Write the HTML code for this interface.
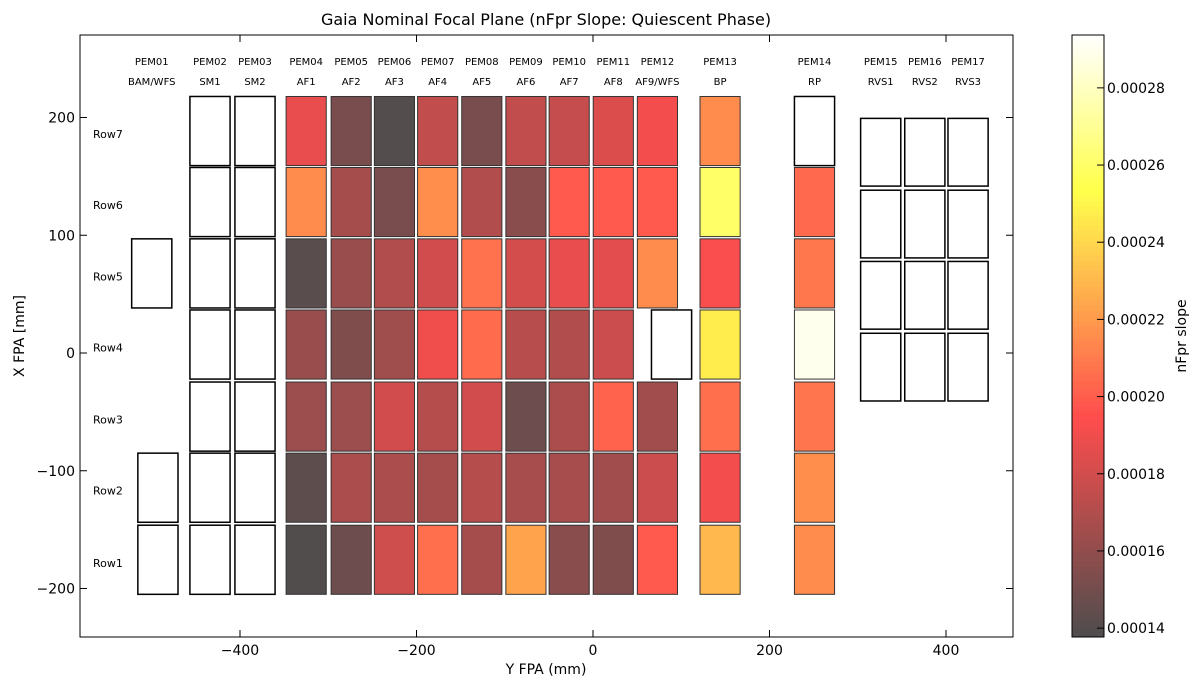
<!DOCTYPE html>
<html><head><meta charset="utf-8">
<style>
html,body{margin:0;padding:0;background:#fff;}
svg text{font-family:"DejaVu Sans","Liberation Sans",sans-serif;}
</style></head>
<body>
<svg id="chart" width="1200" height="690" viewBox="0 0 1200 690" xmlns="http://www.w3.org/2000/svg">
<text x="546" y="25" font-size="16" text-anchor="middle">Gaia Nominal Focal Plane (nFpr Slope: Quiescent Phase)</text>
<g id="cells"></g>
<g id="labels"></g>
<rect x="80" y="35" width="933" height="602" fill="none" stroke="#000" stroke-width="1"/>
<g id="axes"></g>
<text x="546" y="674" font-size="14" text-anchor="middle">Y FPA (mm)</text>
<text transform="translate(24,336) rotate(-90)" font-size="14" text-anchor="middle">X FPA [mm]</text>
<g id="cbar"></g>
<text transform="translate(1186,336) rotate(-90)" font-size="14" text-anchor="middle">nFpr slope</text>
</svg>
<script>
// ---- data ----
const rowNames = ["Row7","Row6","Row5","Row4","Row3","Row2","Row1"];
const rowCenters = [188.5, 128.2, 67.6, 7.2, -54.0, -114.4, -175.6];
const pemLabels = ["PEM01","PEM02","PEM03","PEM04","PEM05","PEM06","PEM07","PEM08","PEM09","PEM10","PEM11","PEM12","PEM13","PEM14","PEM15","PEM16","PEM17"];
const ccdLabels = ["BAM/WFS","SM1","SM2","AF1","AF2","AF3","AF4","AF5","AF6","AF7","AF8","AF9/WFS","BP","RP","RVS1","RVS2","RVS3"];
const colCenters = [-500,-434,-383,-325,-274,-225,-176,-126,-76,-27,23,73,144,251,326,376,425];
// values in units of 1e-5, rows 7..1 per AF/BP/RP column
const valAF1 = [18.8,21.5,14.2,16.2,16.3,14.3,13.9];
const valAF2 = [15.2,16.6,16.2,15.4,16.3,16.8,14.8];
const valAF3 = [14.0,15.2,17.0,16.4,18.0,16.8,17.9];
const valAF4 = [17.5,21.6,18.0,19.0,17.1,16.6,20.6];
const valAF5 = [15.2,17.0,20.7,20.5,18.0,17.1,16.6];
const valAF6 = [17.5,15.7,18.1,17.2,14.8,16.7,22.3];
const valAF7 = [17.6,19.9,18.8,17.0,16.8,16.7,15.7];
const valAF8 = [18.3,19.9,18.6,17.8,20.2,16.5,15.4];
const valAF9 = [19.1,19.9,21.5,null,16.5,17.8,19.9];
const valBP  = [21.5,26.0,19.3,24.7,20.6,19.1,23.0];
const valRP  = [null,20.4,20.9,29.0,20.8,21.6,21.5];
const rvsCenters = [170.5, 109.5, 49, -12];
const cbTicks = [14,16,18,20,22,24,26,28];
const cbTickLabels = ["0.00014","0.00016","0.00018","0.00020","0.00022","0.00024","0.00026","0.00028"];
const xTicks = [-400,-200,0,200,400];
const yTicks = [200,100,0,-100,-200];
const vmin = 13.77, vmax = 29.37;

// ---- axes functions ----
const X = v => 593 + (v)*0.8825;
const Y = v => 353 - v*1.1775;
const CW = 45.5, CH = 58.7;
const NS = "http://www.w3.org/2000/svg";
function mk(tag, attrs, parent){const e=document.createElementNS(NS,tag);for(const k in attrs)e.setAttribute(k,attrs[k]);parent.appendChild(e);return e;}
function cmap(v){
  let t=(v-vmin)/(vmax-vmin); t=Math.max(0,Math.min(1,t));
  const r=Math.min(1,t/0.365), g=Math.max(0,Math.min(1,(t-0.365)/0.375)), b=Math.max(0,Math.min(1,(t-0.746)/0.254));
  const a=0.7, f=c=>Math.round(255*(a*c+(1-a)));
  return `rgb(${f(r)},${f(g)},${f(b)})`;
}
const cells=document.getElementById('cells');
function cell(cx,cy,v,name,h){
  const hh=(h||CH)*1.1775;
  const r=mk('rect',{x:X(cx)-CW*0.8825/2,y:Y(cy)-hh/2,width:CW*0.8825,height:hh,
    fill:v==null?'#fff':cmap(v),stroke:v==null?'#000':'#333','stroke-width':v==null?1.5:1},cells);
  
  
}
// BAM
cell(-500, rowCenters[2], null, 'ccd-bam-row5');
cell(-493, rowCenters[5], null, 'ccd-bam-row2');
cell(-493, rowCenters[6], null, 'ccd-bam-row1');
// SM
for(let i=0;i<7;i++){cell(colCenters[1],rowCenters[i],null,'ccd-sm1-'+rowNames[i].toLowerCase());cell(colCenters[2],rowCenters[i],null,'ccd-sm2-'+rowNames[i].toLowerCase());}
const afVals=[valAF1,valAF2,valAF3,valAF4,valAF5,valAF6,valAF7,valAF8,valAF9];
afVals.forEach((arr,c)=>{arr.forEach((v,i)=>{
  if(c===8 && v==null){cell(89,rowCenters[i],null,'ccd-af9-row4');}
  else cell(colCenters[3+c],rowCenters[i],v,'ccd-af'+(c+1)+'-'+rowNames[i].toLowerCase());
});});
valBP.forEach((v,i)=>cell(colCenters[12],rowCenters[i],v,'ccd-bp-'+rowNames[i].toLowerCase()));
valRP.forEach((v,i)=>cell(colCenters[13],rowCenters[i],v,'ccd-rp-'+rowNames[i].toLowerCase()));
for(let c=0;c<3;c++)rvsCenters.forEach((y,i)=>cell(colCenters[14+c],y,null,'ccd-rvs'+(c+1)+'-'+i,57.5));

// labels
const lab=document.getElementById('labels');
pemLabels.forEach((p,i)=>{
  const t1=mk('text',{x:X(colCenters[i]),y:65,'font-size':10,'text-anchor':'middle'},lab);t1.textContent=p;
  
  
  const t2=mk('text',{x:X(colCenters[i]),y:85,'font-size':10,'text-anchor':'middle'},lab);t2.textContent=ccdLabels[i];
  
  
});
rowNames.forEach((r,i)=>{
  const t=mk('text',{x:93,y:Y(rowCenters[i])+7,'font-size':11},lab);t.textContent=r;
  
  
});

// axes
const ax=document.getElementById('axes');
xTicks.forEach(v=>{
  mk('line',{x1:X(v),x2:X(v),y1:637,y2:630,stroke:'#000'},ax);
  mk('line',{x1:X(v),x2:X(v),y1:35,y2:42,stroke:'#000'},ax);
  const t=mk('text',{x:X(v),y:655,'font-size':14,'text-anchor':'middle'},ax);t.textContent=v<0?'\u2212'+(-v):v;
  
  
});
yTicks.forEach(v=>{
  mk('line',{x1:80,x2:87,y1:Y(v),y2:Y(v),stroke:'#000'},ax);
  mk('line',{x1:1013,x2:1006,y1:Y(v),y2:Y(v),stroke:'#000'},ax);
  const t=mk('text',{x:75,y:Y(v)+5,'font-size':14,'text-anchor':'end'},ax);t.textContent=v<0?'\u2212'+(-v):v;
  
  
});

// colorbar
const cb=document.getElementById('cbar');
const CBY = v => 637 - (v-vmin)/(vmax-vmin)*602;
const N=120;
for(let i=0;i<N;i++){
  const v0=vmin+(vmax-vmin)*i/N, v1=vmin+(vmax-vmin)*(i+1)/N;
  mk('rect',{x:1072,y:CBY(v1)-0.5,width:32,height:CBY(v0)-CBY(v1)+1,fill:cmap((v0+v1)/2)},cb);
}
mk('rect',{x:1072,y:35,width:32,height:602,fill:'none',stroke:'#000'},cb);
cbTicks.forEach((v,i)=>{
  mk('line',{x1:1104,x2:1097,y1:CBY(v),y2:CBY(v),stroke:'#000'},cb);
  const t=mk('text',{x:1107,y:CBY(v)+5,'font-size':14},cb);t.textContent=cbTickLabels[i];
  
  
});
</script>
</body></html>
